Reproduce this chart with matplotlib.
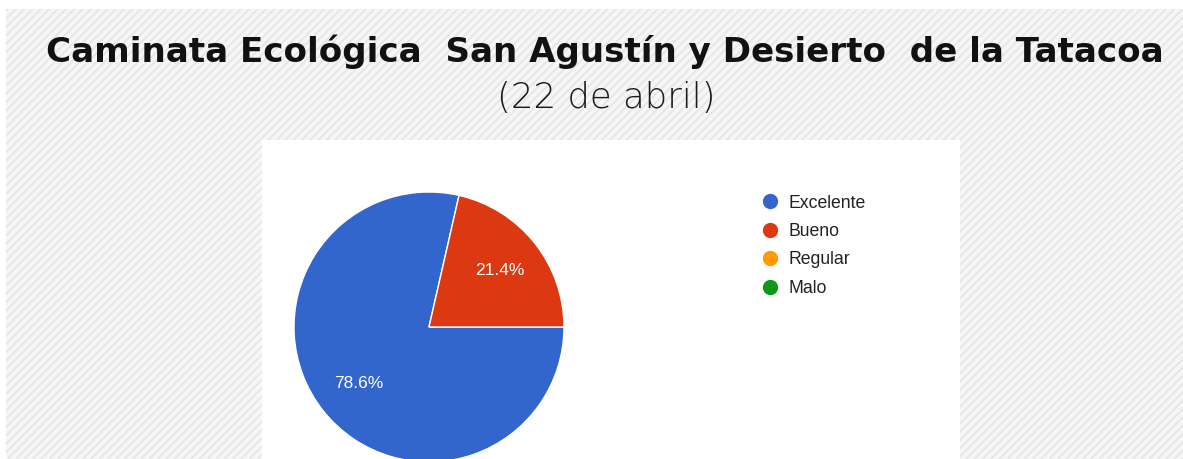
import matplotlib
matplotlib.use("Agg")
import matplotlib.pyplot as plt
from matplotlib.patches import Rectangle
from matplotlib.lines import Line2D

# ---- data ----
title = "Caminata Ecológica  San Agustín y Desierto  de la Tatacoa"
subtitle = "(22 de abril)"
categories = ["Excelente", "Bueno", "Regular", "Malo"]
counts = [11, 3, 0, 0]
colors = ["#3366cc", "#dc3912", "#ff9900", "#109618"]

W, H = 1183, 459
DPI = 100
plt.rcParams['hatch.linewidth'] = 1.3
fig = plt.figure(figsize=(W / DPI, H / DPI), dpi=DPI, facecolor="white")

def fx(px):
    return px / W

def fy(py):  # py measured from top
    return 1 - py / H

# hatched background
bg = Rectangle((fx(6), 0), 1 - fx(6), fy(9), transform=fig.transFigure,
               facecolor="#f6f6f6", edgecolor="#e6e6e6", hatch="////",
               linewidth=0, zorder=0)
fig.add_artist(bg)

# white chart panel
panel = Rectangle((fx(262), 0), fx(960) - fx(262), fy(140), transform=fig.transFigure,
                  facecolor="white", edgecolor="none", zorder=1)
fig.add_artist(panel)

# title & subtitle, fitted to measured width
renderer = fig.canvas.get_renderer()

def fitted_text(s, xc, ybase, target_w, **kw):
    t = fig.text(fx(xc), fy(ybase), s, ha="center", va="baseline", zorder=5, **kw)
    t.set_fontsize(20)
    w = t.get_window_extent(renderer=renderer).width
    t.set_fontsize(20 * target_w / w)
    return t

fitted_text(title, 605, 62, 1116, family="DejaVu Sans", fontweight="bold", color="#111111")
fitted_text(subtitle, 606, 108, 218, family="DejaVu Sans", fontweight=200, color="#1a1a1a")

# pie
cx, cy, r = 429, 327, 135
ax = fig.add_axes([fx(cx - r), fy(cy + r), 2 * r / W, 2 * r / H])
ax.set_axis_off()
ax.set_zorder(3)

vals = [v for v in counts if v > 0]
cols = [c for v, c in zip(counts, colors) if v > 0]
total = sum(counts)
start = 360 * sum(vals[1:]) / total
wedges, texts, autotexts = ax.pie(
    vals, colors=cols, radius=1, startangle=start, counterclock=True,
    autopct="%1.1f%%", pctdistance=0.67,
    wedgeprops=dict(edgecolor="white", linewidth=1.0),
    textprops=dict(color="white", fontsize=12.5, family="Liberation Sans"))
ax.set_xlim(-1, 1)
ax.set_ylim(-1, 1)
for w in wedges:
    w.set_clip_on(False)

# legend
lx, ly0, dy = 770, 201, 28.5
for i, (cat, col) in enumerate(zip(categories, colors)):
    y = ly0 + i * dy
    fig.add_artist(Line2D([fx(lx)], [fy(y)], marker="o", markersize=10,
                          markerfacecolor=col, markeredgecolor=col,
                          linestyle="none", transform=fig.transFigure, zorder=4))
    fig.text(fx(788), fy(y), cat, ha="left", va="center_baseline",
             fontsize=12.7, family="Liberation Sans", color="#222222", zorder=4)

fig.savefig("out.png", dpi=DPI, facecolor="white")
